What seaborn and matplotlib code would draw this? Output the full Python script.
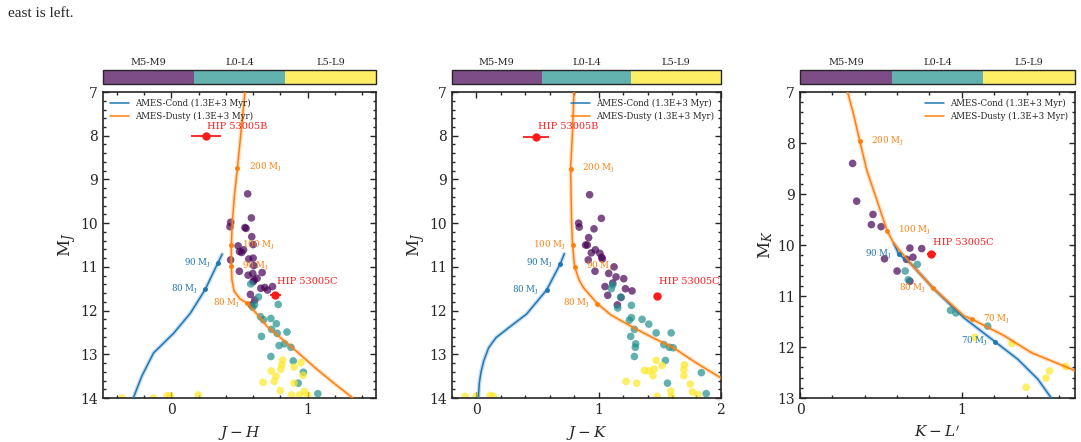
import numpy as np
import pandas as pd
import seaborn as sns
import matplotlib.pyplot as plt
import matplotlib as mpl
from matplotlib.ticker import MultipleLocator

# ---- field dwarfs, J-H vs M_J ----
jh_m_x = [0.56, 0.587, 0.435, 0.43, 0.54, 0.548, 0.59, 0.49, 0.60, 0.50, 0.53, 0.516, 0.568, 0.60,
          0.605, 0.435, 0.499, 0.563, 0.597, 0.666, 0.629, 0.60, 0.607, 0.685, 0.705, 0.742, 0.58,
          0.612, 0.587, 0.656]
jh_m_y = [9.33, 9.88, 9.98, 10.08, 10.1, 10.12, 10.31, 10.52, 10.49, 10.65, 10.61, 10.67, 10.82, 10.8,
          10.97, 10.84, 11.1, 11.19, 11.15, 11.13, 11.26, 11.34, 11.3, 11.47, 11.53, 11.45, 11.63,
          11.76, 11.87, 11.49]
jh_l0_x = [0.582, 0.639, 0.61, 0.597, 0.784, 0.654, 0.676, 0.73, 0.77, 0.735, 0.661, 0.848, 0.776,
           0.79, 0.83, 0.877, 0.73, 0.894, 0.968, 0.93, 1.074]
jh_l0_y = [11.39, 11.69, 11.87, 11.92, 11.86, 12.14, 12.21, 12.18, 12.3, 12.43, 12.59, 12.49, 12.52,
           12.8, 12.76, 12.84, 13.05, 13.15, 13.41, 13.66, 13.9]
jh_l5_x = [0.816, 0.81, 0.803, 0.732, 0.95, 0.9, 0.767, 0.966, 0.673, 0.754, 0.9, 0.8, 0.975, 0.882,
           0.94, 1.0, -0.03, -0.007, 0.197, -0.36, -0.13]
jh_l5_y = [13.13, 13.24, 13.34, 13.38, 13.19, 13.29, 13.5, 13.48, 13.64, 13.62, 13.66, 13.83, 13.85,
           13.93, 13.93, 13.93, 13.95, 13.95, 13.93, 14.0, 14.0]

# ---- field dwarfs, J-K vs M_J ----
jk_m_x = [0.926, 1.022, 0.836, 0.841, 0.962, 0.918, 0.893, 0.907, 0.973, 0.94, 1.01, 0.915, 1.025,
          1.03, 0.97, 1.126, 1.082, 1.142, 1.205, 1.219, 1.273, 1.052, 1.074, 1.183, 1.153, 1.115]
jk_m_y = [9.35, 9.89, 10.0, 10.09, 10.13, 10.33, 10.5, 10.5, 10.61, 10.68, 10.69, 10.84, 10.78,
          10.82, 11.1, 11.0, 11.15, 11.23, 11.27, 11.5, 11.55, 11.45, 11.65, 11.7, 11.87, 11.37]
jk_l0_x = [1.115, 1.104, 1.18, 1.156, 1.268, 1.268, 1.251, 1.355, 1.41, 1.262, 1.292, 1.47, 1.593,
           1.533, 1.303, 1.30, 1.579, 1.609, 1.546, 1.292, 1.84, 1.563, 1.88]
jk_l0_y = [11.41, 11.5, 11.69, 11.94, 11.88, 12.16, 12.22, 12.2, 12.31, 12.59, 12.43, 12.51, 12.51,
           12.78, 12.76, 12.84, 12.84, 12.85, 13.14, 13.05, 13.42, 13.66, 13.9]
jk_l5_x = [1.47, 1.454, 1.41, 1.374, 1.519, 1.445, 1.702, 1.697, 1.697, 1.224, 1.311, 1.749, 1.59,
           1.767, 1.811, 1.478, 1.596, -0.093, -0.003, 0.112, 0.139]
jk_l5_y = [13.14, 13.34, 13.38, 13.37, 13.26, 13.49, 13.24, 13.35, 13.49, 13.62, 13.66, 13.68, 13.84,
           13.86, 13.92, 13.96, 13.96, 13.96, 13.96, 13.94, 13.96]

# ---- field dwarfs, K-L' vs M_K ----
kl_m_x = [0.325, 0.35, 0.451, 0.441, 0.501, 0.522, 0.679, 0.752, 0.658, 0.698, 0.60, 0.679]
kl_m_y = [8.4, 9.14, 9.4, 9.6, 9.64, 10.27, 10.06, 10.07, 10.28, 10.24, 10.51, 10.71]
kl_l0_x = [0.65, 0.725, 0.669, 0.93, 0.963, 1.16]
kl_l0_y = [10.51, 10.38, 10.68, 11.28, 11.33, 11.59]
kl_l5_x = [1.081, 1.31, 1.642, 1.542, 1.52, 1.398]
kl_l5_y = [11.81, 11.93, 12.38, 12.47, 12.61, 12.79]

# ---- AMES isochrones (1.3 Gyr) ----
dusty_jh = [0.54, 0.515, 0.485, 0.462, 0.447, 0.44, 0.44, 0.445, 0.46, 0.5, 0.553, 0.62, 0.705, 0.877,
            1.07, 1.2, 1.33]
dusty_jh_mj = [7.0, 7.8, 8.73, 9.4, 10.0, 10.5, 10.98, 11.3, 11.55, 11.72, 11.83, 12.05, 12.37, 12.82,
               13.35, 13.68, 14.0]
cond_jh = [0.373, 0.34, 0.25, 0.14, 0.017, -0.13, -0.216, -0.278]
cond_jh_mj = [10.71, 10.92, 11.51, 12.06, 12.52, 12.97, 13.5, 14.0]

dusty_jk = [0.798, 0.785, 0.77, 0.775, 0.779, 0.787, 0.803, 0.84, 0.874, 0.989, 1.1, 1.284, 1.45,
            1.612, 1.8, 2.0]
dusty_jk_mj = [7.0, 8.0, 8.75, 9.4, 10.01, 10.51, 11.0, 11.3, 11.47, 11.84, 12.1, 12.39, 12.63,
               12.85, 13.2, 13.54]
cond_jk = [0.719, 0.686, 0.574, 0.41, 0.26, 0.16, 0.1, 0.06, 0.038, 0.024, 0.016]
cond_jk_mj = [10.7, 10.93, 11.53, 12.08, 12.4, 12.62, 12.85, 13.15, 13.4, 13.65, 14.0]

dusty_kl = [0.294, 0.331, 0.369, 0.414, 0.476, 0.538, 0.58, 0.683, 0.824, 1.014, 1.06, 1.263, 1.43,
            1.698]
dusty_kl_mk = [7.0, 7.44, 7.96, 8.55, 9.13, 9.72, 9.97, 10.36, 10.85, 11.39, 11.45, 11.78, 12.11,
               12.46]
cond_kl = [0.58, 0.61, 0.683, 0.824, 1.014, 1.207, 1.346, 1.47, 1.553]
cond_kl_mk = [9.97, 10.18, 10.36, 10.85, 11.43, 11.9, 12.24, 12.63, 13.0]

# mass markers: (x, y, label)
jh_dusty_marks = [(0.485, 8.73, '200'), (0.44, 10.5, '100'), (0.44, 10.98, '90'), (0.553, 11.83, '80')]
jh_dusty_side = ['r', 'r', 'r', 'l']
jh_cond_marks = [(0.34, 10.92, '90'), (0.25, 11.51, '80')]
jk_dusty_marks = [(0.77, 8.75, '200'), (0.787, 10.51, '100'), (0.803, 11.0, '90'), (0.989, 11.84, '80')]
jk_dusty_side = ['r', 'l', 'r', 'l']
jk_cond_marks = [(0.686, 10.93, '90'), (0.574, 11.53, '80')]
kl_dusty_marks = [(0.369, 7.96, '200'), (0.538, 9.72, '100'), (0.824, 10.85, '80'), (1.06, 11.45, '70')]
kl_dusty_side = ['r', 'r', 'l', 'r']
kl_cond_marks = [(0.61, 10.18, '90'), (1.207, 11.9, '70')]

# HIP 53005 B / C photometry: (x, xerr, y, yerr)
hip_b_jh = (0.255, 0.108, 8.01, 0.05)
hip_c_jh = (0.762, 0.04, 11.65, 0.04)
hip_b_jk = (0.489, 0.104, 8.03, 0.05)
hip_c_jk = (1.481, 0.03, 11.66, 0.04)
hip_c_kl = (0.812, 0.026, 10.18, 0.04)

spt_bins = ['M5-M9', 'L0-L4', 'L5-L9']

sns.set_style('ticks')
plt.rcParams['font.family'] = ['DejaVu Serif']
plt.rcParams['mathtext.fontset'] = 'dejavuserif'
plt.rcParams['xtick.direction'] = 'in'
plt.rcParams['ytick.direction'] = 'in'

vir = mpl.colormaps['viridis']
pal = {k: vir(v) for k, v in zip(spt_bins, [0.0, 0.5, 1.0])}
alpha = 0.7
blend = [tuple(alpha * np.array(pal[k][:3]) + (1 - alpha)) for k in spt_bins]

cond_c = '#1f77b4'
dusty_c = '#ff7f0e'
red = '#ff1a1a'


def make_df(xs, ys):
    rows = []
    for lab, x, y in zip(spt_bins, xs, ys):
        for a, b in zip(x, y):
            rows.append((a, b, lab))
    return pd.DataFrame(rows, columns=['x', 'y', 'spt'])


def mass_marks(ax, marks, color, sides):
    xs = [m[0] for m in marks]
    ys = [m[1] for m in marks]
    ax.plot(xs, ys, 'o', ms=2.5, color=color, zorder=4)
    for (x, y, lab), s in zip(marks, sides):
        off = 8 if s == 'r' else -5
        ax.annotate(lab + r' M$_\mathrm{J}$', (x, y), xytext=(off, 0), textcoords='offset points',
                    ha='left' if s == 'r' else 'right', va='center', fontsize=6.3, color=color, zorder=6)


fig = plt.figure(figsize=(10.81, 4.42), dpi=100)
fig.text(0.007, 0.985, 'east is left.', fontsize=11, family='Liberation Serif', va='top', ha='left')

panels = [
    dict(left=0.0953, width=0.2525, xlim=(-0.5, 1.5), ylim=(14, 7), xlab='$J-H$', ylab='M$_J$',
         fx=(jh_m_x, jh_l0_x, jh_l5_x), fy=(jh_m_y, jh_l0_y, jh_l5_y),
         dusty=(dusty_jh, dusty_jh_mj), cond=(cond_jh, cond_jh_mj),
         dmarks=jh_dusty_marks, dside=jh_dusty_side, cmarks=jh_cond_marks,
         hip=[(hip_b_jh, 'HIP 53005B', 7), (hip_c_jh, 'HIP 53005C', 10)], loc='upper left'),
    dict(left=0.4181, width=0.2488, xlim=(-0.2, 2.0), ylim=(14, 7), xlab='$J-K$', ylab='M$_J$',
         fx=(jk_m_x, jk_l0_x, jk_l5_x), fy=(jk_m_y, jk_l0_y, jk_l5_y),
         dusty=(dusty_jk, dusty_jk_mj), cond=(cond_jk, cond_jk_mj),
         dmarks=jk_dusty_marks, dside=jk_dusty_side, cmarks=jk_cond_marks,
         hip=[(hip_b_jk, 'HIP 53005B', 7.5), (hip_c_jk, 'HIP 53005C', 10)], loc='upper right'),
    dict(left=0.7401, width=0.2544, xlim=(0, 1.7), ylim=(13, 7), xlab="$K-L'$", ylab='M$_K$',
         fx=(kl_m_x, kl_l0_x, kl_l5_x), fy=(kl_m_y, kl_l0_y, kl_l5_y),
         dusty=(dusty_kl, dusty_kl_mk), cond=(cond_kl, cond_kl_mk),
         dmarks=kl_dusty_marks, dside=kl_dusty_side, cmarks=kl_cond_marks,
         hip=[(hip_c_kl, 'HIP 53005C', 8.5)], loc='upper right'),
]

cmap = mpl.colors.ListedColormap(blend)
norm = mpl.colors.BoundaryNorm([0, 1, 2, 3], 3)

for p in panels:
    ax = fig.add_axes([p['left'], 0.0995, p['width'], 0.6923])
    df = make_df(p['fx'], p['fy'])
    sns.scatterplot(data=df, x='x', y='y', hue='spt', palette=pal, hue_order=spt_bins, s=30,
                    alpha=alpha, edgecolor='none', legend=False, ax=ax, zorder=2)
    # faint model-uncertainty envelope
    ax.plot(p['cond'][0], p['cond'][1], color=cond_c, lw=3.0, alpha=0.25, zorder=3)
    ax.plot(p['dusty'][0], p['dusty'][1], color=dusty_c, lw=3.0, alpha=0.25, zorder=3)
    ax.plot(p['cond'][0], p['cond'][1], color=cond_c, lw=1.1, label='AMES-Cond (1.3E+3 Myr)', zorder=3)
    ax.plot(p['dusty'][0], p['dusty'][1], color=dusty_c, lw=1.1, label='AMES-Dusty (1.3E+3 Myr)', zorder=3)
    mass_marks(ax, p['dmarks'], dusty_c, p['dside'])
    mass_marks(ax, p['cmarks'], cond_c, ['l'] * len(p['cmarks']))
    for (x, xe, y, ye), name, dy in p['hip']:
        ax.errorbar(x, y, xerr=xe, yerr=ye, fmt='o', ms=5, color=red, elinewidth=1.3, zorder=5)
        ax.annotate(name, (x, y), xytext=(1, dy), textcoords='offset points', ha='left', va='center',
                    fontsize=7, color=red, zorder=6)
    ax.set_xlim(p['xlim'])
    ax.set_ylim(p['ylim'])
    ax.set_xlabel(p['xlab'], fontsize=11, labelpad=5)
    ax.set_ylabel(p['ylab'], fontsize=12, labelpad=2)
    ax.xaxis.set_major_locator(MultipleLocator(1))
    ax.xaxis.set_minor_locator(MultipleLocator(0.2))
    ax.yaxis.set_major_locator(MultipleLocator(1))
    ax.yaxis.set_minor_locator(MultipleLocator(0.2))
    ax.tick_params(which='both', top=True, right=True, labelsize=10, width=1.0)
    ax.tick_params(which='major', length=4)
    ax.tick_params(which='minor', length=2.5)
    for sp in ax.spines.values():
        sp.set_linewidth(1.2)
    ax.legend(loc=p['loc'], fontsize=6.2, frameon=False, handlelength=2.2, handletextpad=0.7,
              borderaxespad=0.4, labelspacing=0.4)

    cax = fig.add_axes([p['left'], 0.81, p['width'], 0.0317])
    cb = fig.colorbar(mpl.cm.ScalarMappable(norm=norm, cmap=cmap), cax=cax, orientation='horizontal',
                      ticks=[0.5, 1.5, 2.5])
    cb.ax.xaxis.set_ticks_position('top')
    cb.ax.set_xticklabels(spt_bins)
    cb.ax.tick_params(direction='in', length=4, labelsize=7, pad=2)
    cb.outline.set_linewidth(1.0)

fig.savefig('out.png', dpi=100)
